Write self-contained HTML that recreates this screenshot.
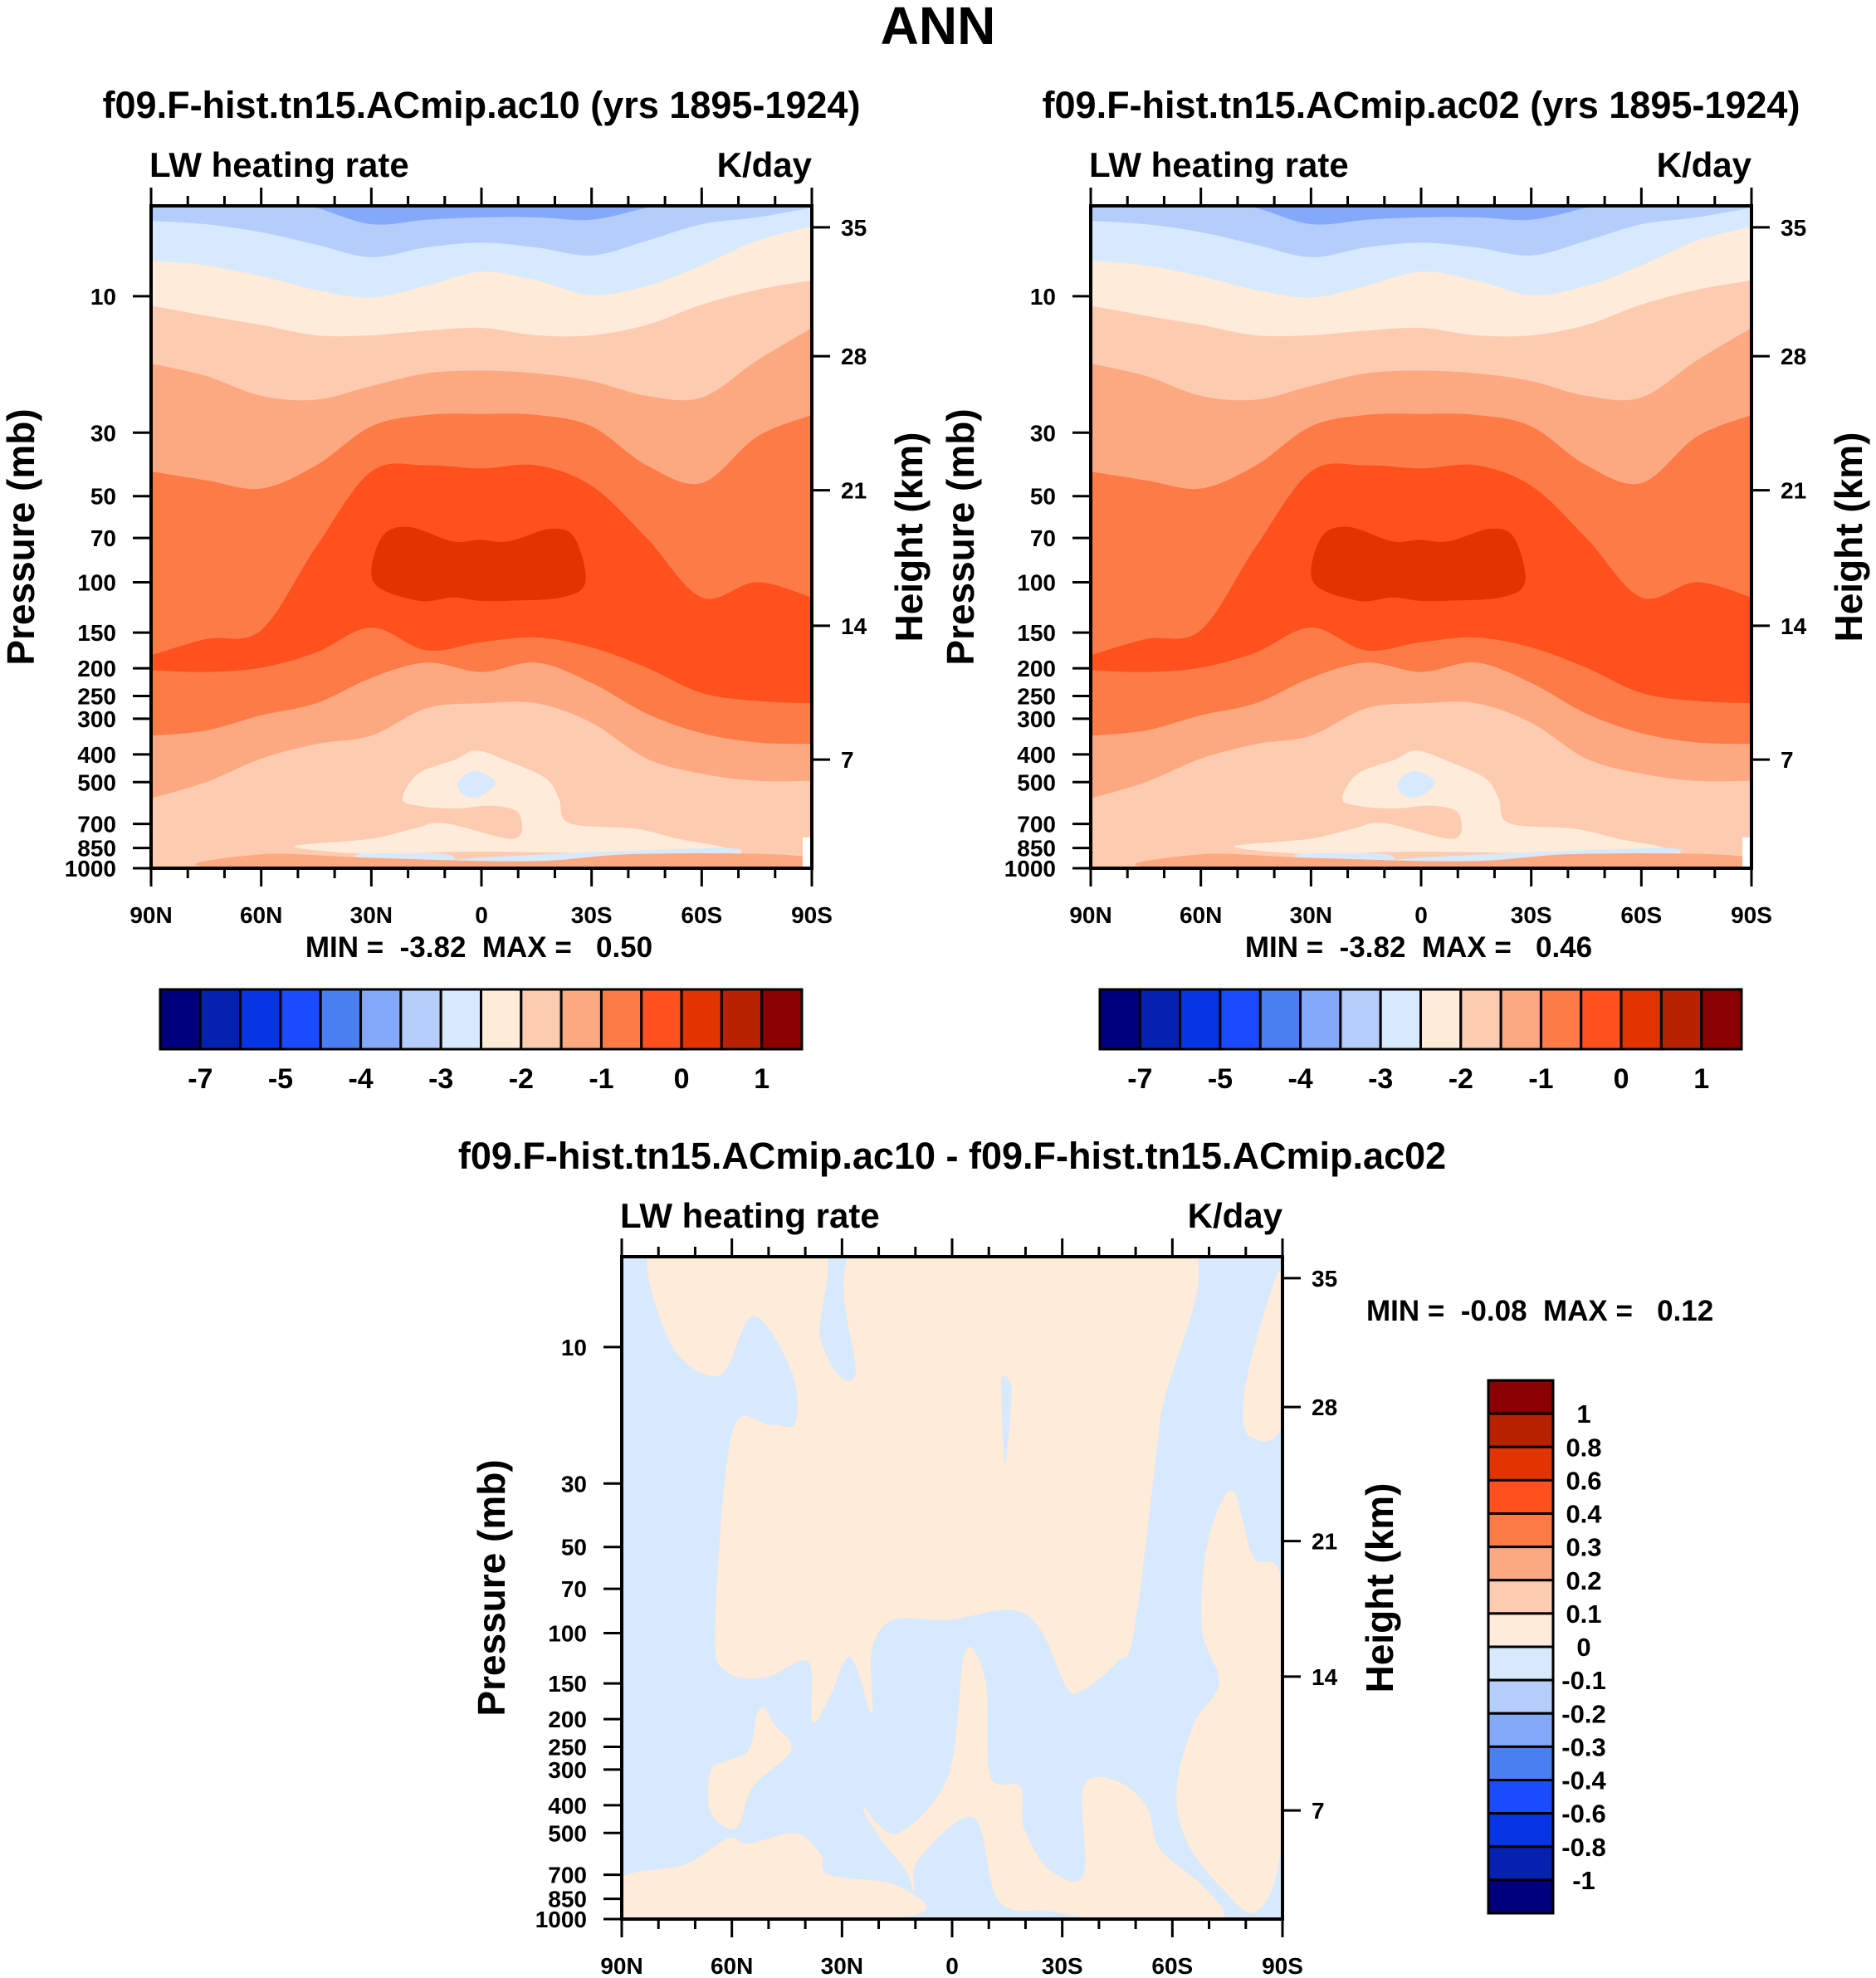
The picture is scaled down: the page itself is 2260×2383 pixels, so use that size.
<!DOCTYPE html>
<html><head><meta charset="utf-8">
<style>
html,body{margin:0;padding:0;background:#fff;}
svg{display:block;font-family:"Liberation Sans",Arial,sans-serif;font-weight:bold;}
text{white-space:pre;}
</style></head>
<body>
<svg id="fig" xmlns="http://www.w3.org/2000/svg" width="2260" height="2383" viewBox="0 0 2260 2383">
<rect x="0" y="0" width="2260" height="2383" fill="#fff"/>
<text x="1130" y="53" font-size="64" text-anchor="middle">ANN</text>
</svg>
<script>
// ---------- data ----------
const lats=[90,75,60,45,30,15,0,-15,-30,-45,-60,-75,-90];
const bandA=[4.3,4.3,4.4,4.9,5.6,5.4,5.3,5.3,5.4,4.9,4.4,4.3,4.3];
const bandB=[5.45,5.6,5.97,6.6,7.3,6.75,6.5,6.75,7.2,6.4,5.6,5.3,4.9];
const bandC=[7.5,7.8,8.5,9.5,10.1,9.2,8.2,8.8,9.9,9.2,7.8,6.4,5.7];
const bandD=[10.8,11.7,12.6,13.7,13.7,13.2,12.9,13.7,13.7,12.6,10.7,9.5,8.8];
const bandE=[17.2,19,22.3,23,20.6,18.6,18.2,18.6,19.8,22.3,22.6,16.8,12.9];
const bandF=[41,44,47,39,28.5,26,25.8,26,28.5,39,45,31,26];
const bandG=[180,158,147,75,41,39,40,39,46,70,113,100,113];
const bandH=[203,206,199,176,144,173,162,156,169,199,244,260,265];
const bandI=[344,330,292,265,216,191,206,191,225,288,337,363,368];
const bandJ=[570,500,414,368,344,276,265,265,310,414,467,495,495];
const coreBlob=[[27.3,70],[20,64],[7.8,72],[0.6,71],[-7.4,72],[-18.9,65],[-25.4,70],[-28.3,100],[-21.8,113],[-7.4,116],[0.6,116],[7.8,113],[17.2,116],[29.4,100]];
const lowBlob=[[21.5,570],[17.2,467],[7.1,417],[1.3,388],[-7.4,423],[-17.5,485],[-21.1,570],[-24,696],[-42,728],[-53.5,789],[-65,839],[-69.4,892],[-42,892],[1.3,875],[30.1,892],[51.1,839],[30.1,789],[18.6,728],[10,696],[-8.8,789],[-10.2,643],[-3,605],[7.1,618],[17.2,605]];
const blueSpot=[[6.3,500],[2,457],[-3.8,500],[0.6,562],[5,553]];
const blueStrip1=[[33,892],[10,892],[10,960],[30,940]];
const blueStrip2=[[1.3,920],[-63.6,850],[-62.2,900],[1.3,968]];
const sfcStrip=[[67.6,1000],[59,892],[30,920],[-13,945],[-42,892],[-84,900],[-90,1000]];
const diffMain=[[80.3,4],[77.3,9.4],[63.5,12.6],[54.2,7.8],[43.8,12.1],[42.7,18.4],[49.6,18.7],[60,20],[64.6,98],[61.2,137],[50.8,143],[39.2,126],[38.1,204],[33.5,169],[27.7,121],[21.9,191],[21.9,116],[16.1,90],[1.1,90],[-16.2,83],[-24.2,98],[-31.2,155],[-35.8,158],[-45,126],[-49.6,98],[-56.6,18.4],[-62.3,4],[22.4,4],[26.5,12.6],[35.8,9.4],[36.9,4]];
const diffSpike=[[-13.9,12.6],[-16.2,14.3],[-14.4,25.6],[-13.4,14.3]];
const diffEdge=[[-90,5.7],[-85.4,7.3],[-79.6,14.3],[-80.8,20.4],[-90,18.4]];
const diffRight=[[-90,70],[-82,54],[-76.2,31.6],[-69.3,50],[-68.1,98],[-72.7,149],[-65.8,208],[-61.2,344],[-63.5,522],[-72.7,762],[-83.1,939],[-90,501]];
const diffBlob=[[50.8,184],[48.5,208],[43.8,256],[54.2,344],[58.8,481],[65.8,424],[65.8,303],[61.2,279],[55.4,256],[53.1,191]];
const diffLowLeft=[[90,716],[72.7,644],[61.2,522],[55.4,544],[42.7,501],[35.8,593],[33.5,700],[15,762],[12.7,980],[90,1000]];
const diffLowMid=[[24.2,406],[15,501],[1.1,316],[-3.5,116],[-9.2,149],[-10.4,316],[-18.5,344],[-19.6,481],[-26.5,671],[-35.8,700],[-35.8,344],[-45,330],[-53.1,406],[-56.6,569],[-68.1,762],[-72.7,1000],[-42.7,1000],[-26.5,939],[-12.7,864],[-5.8,442],[9.2,618],[10.4,794],[12.7,671],[19.6,522]];
const pTicks=[10,30,50,70,100,150,200,250,300,400,500,700,850,1000];
const hTicks=[7,14,21,28,35];
const hTickP=[417,142,47.7,16.2,5.74];
const latTicks=[90,60,30,0,-30,-60,-90];
const latLabels=['90N','60N','30N','0','30S','60S','90S'];
const cbColors=['#00007f','#0421b0','#0535e4','#1a4bff','#4a7ff2','#84a9fb','#b4cdfb','#d6e9fd','#feebd9','#fdcbb0','#fca981','#fd7b47','#fe511d','#e23400','#b82200','#8b0000'];
const cbLabelsTop=['-7','-5','-4','-3','-2','-1','0','1'];
const cbLabelsDiff=['1','0.8','0.6','0.4','0.3','0.2','0.1','0','-0.1','-0.2','-0.3','-0.4','-0.6','-0.8','-1'];

const NS='http://www.w3.org/2000/svg';
const svg=document.getElementById('fig');
const P_TOP=4.83;
function el(tag,attrs,parent){const e=document.createElementNS(NS,tag);for(const k in attrs)e.setAttribute(k,attrs[k]);(parent||svg).appendChild(e);return e;}
function txt(x,y,s,size,anchor,name,parent,extra){
  const t=el('text',Object.assign({x:x,y:y,'font-size':size,'text-anchor':anchor||'start'},extra||{}),parent);
  t.textContent=s;
  
  
  return t;}
function crPath(pts,closed){
  const n=pts.length;let d='M'+pts[0][0].toFixed(1)+','+pts[0][1].toFixed(1);
  const g=i=>closed?pts[(i+n)%n]:pts[Math.max(0,Math.min(n-1,i))];
  const last=closed?n:n-1;
  for(let i=0;i<last;i++){const p0=g(i-1),p1=g(i),p2=g(i+1),p3=g(i+2);
    const c1=[p1[0]+(p2[0]-p0[0])/6,p1[1]+(p2[1]-p0[1])/6];
    const c2=[p2[0]-(p3[0]-p1[0])/6,p2[1]-(p3[1]-p1[1])/6];
    d+='C'+c1[0].toFixed(1)+','+c1[1].toFixed(1)+' '+c2[0].toFixed(1)+','+c2[1].toFixed(1)+' '+p2[0].toFixed(1)+','+p2[1].toFixed(1);}
  return d+(closed?'Z':'');}

function panel(x0,y0,w,h,id,title,fieldFn){
  const X=lat=>x0+(90-lat)/180*w;
  const Y=p=>y0+(Math.log10(p)-Math.log10(P_TOP))/(3-Math.log10(P_TOP))*h;
  const g=el('g',{});
  
  
  const cp=el('clipPath',{id:id+'-clip'},g);
  el('rect',{x:x0,y:y0,width:w,height:h},cp);
  const fg=el('g',{'clip-path':'url(#'+id+'-clip)'},g);
  
  
  fieldFn(fg,X,Y,x0,y0,w,h);
  const fr=el('rect',{x:x0,y:y0,width:w,height:h,fill:'none',stroke:'#000','stroke-width':4},g);
  
  
  for(let lat=90;lat>=-90;lat-=10){const major=lat%30===0;const L=major?22:12;const x=X(lat);
    const t1=el('line',{x1:x,x2:x,y1:y0,y2:y0-L,stroke:'#000','stroke-width':3},g);
    
    
    const t2=el('line',{x1:x,x2:x,y1:y0+h,y2:y0+h+L,stroke:'#000','stroke-width':3},g);
    
    }
  latTicks.forEach((lat,i)=>txt(X(lat),y0+h+66,latLabels[i],28,'middle','x-tick-label',g));
  pTicks.forEach(p=>{const y=Y(p);
    const t=el('line',{x1:x0,x2:x0-22,y1:y,y2:y,stroke:'#000','stroke-width':3},g);
    
    
    txt(x0-42,y+10,String(p),28,'end','pressure-tick-label',g);});
  hTicks.forEach((hk,i)=>{const y=Y(hTickP[i]);
    const t=el('line',{x1:x0+w,x2:x0+w+22,y1:y,y2:y,stroke:'#000','stroke-width':3},g);
    
    
    txt(x0+w+35,y+10,String(hk),28,'start','height-tick-label',g);});
  txt(x0-157,y0+h/2,'Pressure (mb)',46,'middle','y-axis-title',g,{transform:'rotate(-90 '+(x0-157)+' '+(y0+h/2)+')',dy:'16'});
  txt(x0+w+117,y0+h/2,'Height (km)',46,'middle','right-axis-title',g,{transform:'rotate(-90 '+(x0+w+117)+' '+(y0+h/2)+')',dy:'16'});
  txt(x0-2,y0-35,'LW heating rate',42,'start','variable-label',g);
  txt(x0+w,y0-35,'K/day',42,'end','units-label',g);
  txt(x0+w/2,y0-106,title,45,'middle','panel-title',g);
}
function fillPoly(fg,pts,X,Y,color,name){
  const pp=pts.map(q=>[X(q[0]),Y(q[1])]);
  const e=el('path',{d:crPath(pp,true),fill:color},fg);
  
  }
function meanField(fg,X,Y,x0,y0,w,h){
  const bg=el('rect',{x:x0,y:y0,width:w,height:h,fill:'#84a9fb'},fg);
  
  
  const bands=[[bandA,'#b4cdfb'],[bandB,'#d6e9fd'],[bandC,'#feebd9'],[bandD,'#fdcbb0'],[bandE,'#fca981'],[bandF,'#fd7b47'],[bandG,'#fe511d'],[bandH,'#fd7b47'],[bandI,'#fca981'],[bandJ,'#fdcbb0']];
  bands.forEach((b,bi)=>{
    const pts=lats.map((lat,i)=>[X(lat),Y(b[0][i])]);
    let d=crPath(pts,false)+'L'+(x0+w+5)+','+(y0+h+5)+'L'+(x0-5)+','+(y0+h+5)+'Z';
    const e=el('path',{d:d,fill:b[1]},fg);
    
    });
  fillPoly(fg,lowBlob,X,Y,'#feebd9','lower-trop-min-region');
  fillPoly(fg,blueSpot,X,Y,'#d6e9fd','blue-spot');
  fillPoly(fg,coreBlob,X,Y,'#e23400','heating-core');
  fillPoly(fg,blueStrip1,X,Y,'#d6e9fd','surface-blue-strip');
  fillPoly(fg,blueStrip2,X,Y,'#d6e9fd','surface-blue-strip');
  fillPoly(fg,sfcStrip,X,Y,'#fca981','surface-strip');
  const wr=el('rect',{x:X(-87.5),y:Y(780),width:X(-90)-X(-87.5),height:Y(1000)-Y(780),fill:'#fff'},fg);
  
  
}
function diffField(fg,X,Y,x0,y0,w,h){
  const bg=el('rect',{x:x0,y:y0,width:w,height:h,fill:'#d6e9fd'},fg);
  
  
  [diffMain,diffEdge,diffRight,diffBlob,diffLowLeft,diffLowMid].forEach(r=>fillPoly(fg,r,X,Y,'#feebd9','positive-region'));
  fillPoly(fg,diffSpike,X,Y,'#d6e9fd','negative-spike');
}
panel(182,248,796,798,'left','f09.F-hist.tn15.ACmip.ac10 (yrs 1895-1924)',meanField);
panel(1314,248,796,798,'right','f09.F-hist.tn15.ACmip.ac02 (yrs 1895-1924)',meanField);
panel(749,1514,796,798,'diff','f09.F-hist.tn15.ACmip.ac10 - f09.F-hist.tn15.ACmip.ac02',diffField);

txt(577,1153,'MIN =  -3.82  MAX =   0.50',35,'middle','left-min-max');
txt(1709,1153,'MIN =  -3.82  MAX =   0.46',35,'middle','right-min-max');
txt(1646,1591,'MIN =  -0.08  MAX =   0.12',35,'start','diff-min-max');

function hbar(x0,name){
  const y0=1192,W=773,H=72,bw=W/16;
  cbColors.forEach((c,i)=>{const r=el('rect',{x:x0+i*bw,y:y0,width:bw,height:H,fill:c,stroke:'#000','stroke-width':3});
    
    });
  cbLabelsTop.forEach((s,i)=>txt(x0+(2*i+1)*bw,1311,s,34,'middle',name+'-label'));
}
hbar(193,'left-colorbar');
hbar(1325,'right-colorbar');
(function(){
  const x0=1793,y0=1663,W=78,H=642,bh=H/16;
  cbColors.slice().reverse().forEach((c,i)=>{const r=el('rect',{x:x0,y:y0+i*bh,width:W,height:bh,fill:c,stroke:'#000','stroke-width':3});
    
    });
  cbLabelsDiff.forEach((s,i)=>txt(1908,y0+(i+1)*bh+11,s,31,'middle','diff-colorbar-label'));
})();
</script>
</body></html>
